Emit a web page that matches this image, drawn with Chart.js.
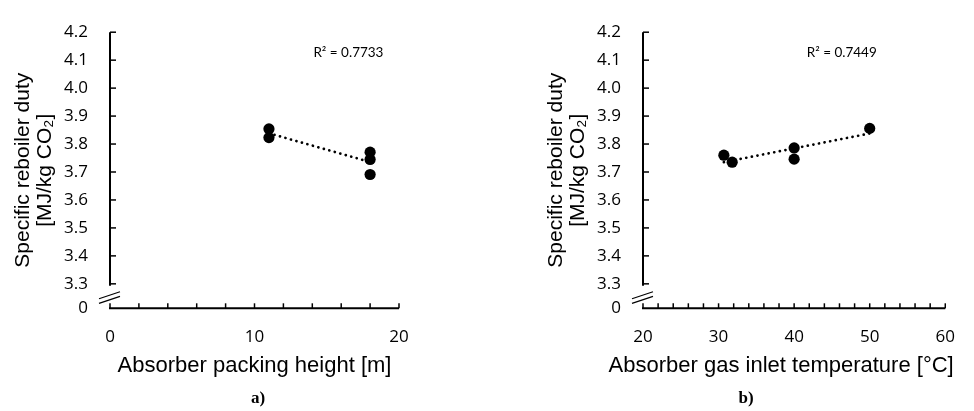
<!DOCTYPE html>
<html>
<head>
<meta charset="utf-8">
<script src="https://cdn.jsdelivr.net/npm/chart.js@4.4.1/dist/chart.umd.min.js"></script>
<style>
  body { margin: 0; background: #fff; }
  #wrap { position: relative; width: 974px; height: 411px; overflow: hidden; }
  #chartA { position: absolute; left: 0; top: 0; }
  #chartB { position: absolute; left: 533px; top: 0; }
</style>
</head>
<body>
<div id="wrap">
  <canvas id="chartA" width="487" height="411"></canvas>
  <canvas id="chartB" width="441" height="411"></canvas>
</div>
<script>
// Datos
const packingHeight = [11, 11, 18, 18, 18];
const packingDuty = [3.854, 3.823, 3.771, 3.745, 3.691];
const gasTemp = [30.7, 31.8, 40, 40, 50];
const gasDuty = [3.760, 3.735, 3.786, 3.746, 3.856];

const yTicks = [3.3, 3.4, 3.5, 3.6, 3.7, 3.8, 3.9, 4.0, 4.1, 4.2];
const yBreakLabel = '0';
const xTicksA = [0, 10, 20];
const xTicksB = [20, 30, 40, 50, 60];
const r2Labels = ['R\u00B2 = 0.7733', 'R\u00B2 = 0.7449'];

const yTitle = ['Specific reboiler duty', '[MJ/kg CO\u2082]'];
const xTitles = ['Absorber packing height [m]', 'Absorber gas inlet temperature [\u00B0C]'];
const captions = ['a)', 'b)'];

const Y_MIN = 3.2125; // posición del "0" bajo el corte del eje

// Recta de tendencia por mínimos cuadrados
function trendLine(xs, ys) {
    const n = xs.length;
    const mx = xs.reduce((a, b) => a + b, 0) / n;
    const my = ys.reduce((a, b) => a + b, 0) / n;
    let sxy = 0, sxx = 0;
    xs.forEach((x, i) => { sxy += (x - mx) * (ys[i] - my); sxx += (x - mx) * (x - mx); });
    const m = sxy / sxx;
    const x0 = Math.min(...xs), x1 = Math.max(...xs);
    return [{x: x0, y: my + m * (x0 - mx)}, {x: x1, y: my + m * (x1 - mx)}];
}

// Ejes, marcas, corte, títulos y etiquetas
const decor = {
    id: 'decor',
    afterDraw(chart, args, o) {
        const {ctx, chartArea: a, scales: {x, y}} = chart;
        ctx.save();
        ctx.strokeStyle = '#000';
        ctx.fillStyle = '#000';

        // eje y hasta justo debajo de 3.3
        const yLow = y.getPixelForValue(yTicks[0]) + 2;
        ctx.lineWidth = 2;
        ctx.beginPath();
        ctx.moveTo(a.left, a.top);
        ctx.lineTo(a.left, yLow);
        ctx.stroke();

        // eje x
        ctx.beginPath();
        ctx.moveTo(a.left - 1, a.bottom);
        ctx.lineTo(a.right, a.bottom);
        ctx.stroke();

        // marca de corte //
        ctx.lineWidth = 1.2;
        const c = (yLow + a.bottom) / 2;
        [-2.3, 2.3].forEach(d => {
            ctx.beginPath();
            ctx.moveTo(a.left - 11, c + d + 4);
            ctx.lineTo(a.left + 10, c + d - 3);
            ctx.stroke();
        });

        // marcas interiores
        ctx.lineWidth = 1.5;
        yTicks.forEach(v => {
            const py = y.getPixelForValue(v);
            ctx.beginPath();
            ctx.moveTo(a.left, py);
            ctx.lineTo(a.left + 6, py);
            ctx.stroke();
        });
        x.ticks.forEach(t => {
            const px = x.getPixelForValue(t.value);
            ctx.beginPath();
            ctx.moveTo(px, a.bottom);
            ctx.lineTo(px, a.bottom - 5);
            ctx.stroke();
        });

        // título eje x
        ctx.font = '22px "Liberation Sans", Arial, sans-serif';
        ctx.textAlign = 'center';
        ctx.textBaseline = 'middle';
        ctx.fillText(o.xTitle, (a.left + a.right) / 2 + o.xTitleDx, 366);

        // pie a) / b)
        ctx.font = 'bold 17px "Liberation Serif", "Times New Roman", serif';
        ctx.fillText(o.caption, (a.left + a.right) / 2 + o.captionDx, 399);

        // R²
        ctx.font = '13.5px Lato, "Open Sans", sans-serif';
        ctx.fillText(o.r2, x.getPixelForValue(o.r2x), y.getPixelForValue(o.r2y));
        ctx.restore();
    }
};

function makeChart(id, xs, ys, xTicks, idx, padRight, xTitleDx, captionDx, r2x) {
    const step = 2;
    new Chart(document.getElementById(id), {
        type: 'scatter',
        data: {
            datasets: [{
                data: xs.map((v, i) => ({x: v, y: ys[i]})),
                backgroundColor: '#000',
                borderWidth: 0,
                pointRadius: 5.6,
                order: 1
            }, {
                type: 'line',
                data: trendLine(xs, ys),
                borderColor: '#000',
                borderWidth: 2.7,
                borderDash: [0.1, 5.6],
                borderCapStyle: 'round',
                pointRadius: 0,
                fill: false,
                order: 2
            }]
        },
        options: {
            responsive: false,
            animation: false,
            devicePixelRatio: 1,
            layout: { padding: { left: 0, top: 22.7, right: padRight, bottom: 32.9 } },
            plugins: {
                legend: { display: false },
                tooltip: { enabled: false },
                decor: {
                    xTitle: xTitles[idx],
                    caption: captions[idx],
                    r2: r2Labels[idx],
                    r2x: r2x,
                    r2y: 4.126,
                    xTitleDx: xTitleDx,
                    captionDx: captionDx
                }
            },
            scales: {
                x: {
                    type: 'linear',
                    min: xTicks[0],
                    max: xTicks[xTicks.length - 1],
                    grid: { display: false, drawTicks: false },
                    border: { display: false },
                    afterBuildTicks: s => {
                        const t = [];
                        for (let v = s.min; v <= s.max + 1e-9; v += step) t.push({value: v});
                        s.ticks = t;
                    },
                    afterFit: s => { s.height = 69.8; },
                    ticks: {
                        autoSkip: false,
                        maxRotation: 0,
                        padding: 19,
                        color: '#000',
                        font: { family: '"Open Sans", sans-serif', size: 17 },
                        callback: v => xTicks.includes(v) ? String(v) : ''
                    }
                },
                y: {
                    type: 'linear',
                    min: Y_MIN,
                    max: yTicks[yTicks.length - 1],
                    grid: { display: false, drawTicks: false },
                    border: { display: false },
                    afterBuildTicks: s => {
                        s.ticks = [{value: Y_MIN}].concat(yTicks.map(v => ({value: v})));
                    },
                    afterFit: s => { s.width = 110; },
                    ticks: {
                        padding: 22,
                        color: '#000',
                        font: { family: '"Open Sans", sans-serif', size: 17 },
                        callback: v => v === Y_MIN ? yBreakLabel : v.toFixed(1)
                    },
                    title: {
                        display: true,
                        text: yTitle,
                        color: '#000',
                        font: { family: '"Liberation Sans", Arial, sans-serif', size: 21, lineHeight: 1.05 },
                        padding: { top: 12, bottom: 0 }
                    }
                }
            }
        },
        plugins: [decor]
    });
}

makeChart('chartA', packingHeight, packingDuty, xTicksA, 0, 88, 0, 3.5, 16.5);
makeChart('chartB', gasTemp, gasDuty, xTicksB, 1, 11, -13, -48, 46.3);
</script>
</body>
</html>
